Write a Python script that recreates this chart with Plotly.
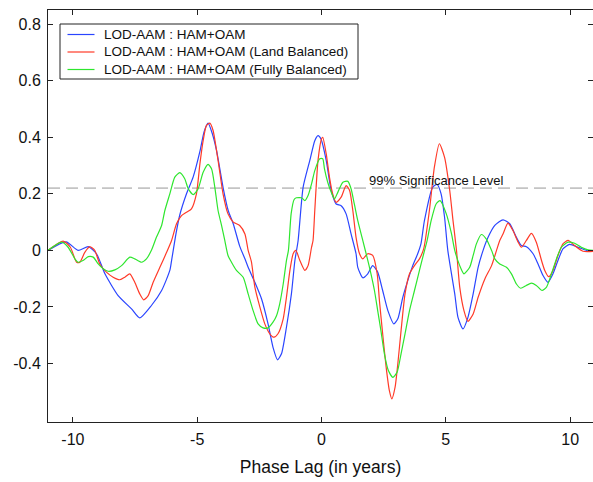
import plotly.graph_objects as go

# ---- data ----
blue_x = [-11.0, -10.27, -9.79, -9.38, -9.05, -8.71, -8.18, -7.64, -7.31, -6.84, -6.43, -6.10, -6.03,
          -5.85, -5.70, -5.43, -5.16, -4.89, -4.72, -4.56, -4.40, -4.22, -3.96, -3.75, -3.55, -3.29, -3.08,
          -2.95, -2.68, -2.41, -2.15, -1.95, -1.77, -1.61, -1.41, -1.21, -1.07, -0.94, -0.74, -0.47,
          -0.27, -0.14, -0.02, 0.19, 0.39, 0.59, 0.79, 0.99, 1.19, 1.39, 1.46, 1.66, 1.86, 2.06, 2.26,
          2.46, 2.67, 2.91, 3.07, 3.27, 3.47, 3.67, 3.87, 4.0, 4.14, 4.47, 4.65, 4.81, 4.95, 5.08, 5.36,
          5.49, 5.69, 5.89, 6.10, 6.30, 6.50, 6.70, 6.97, 7.30, 7.57, 7.84, 8.04, 8.24, 8.51, 8.71, 8.91,
          9.11, 9.31, 9.51, 9.71, 9.98, 10.32, 10.65, 11.0]
blue_y = [0.0, 0.03, 0.0, 0.013, -0.012, -0.083, -0.16, -0.207, -0.239, -0.195, -0.142, -0.071, -0.036,
          0.06, 0.125, 0.2, 0.26, 0.35, 0.42, 0.45, 0.415, 0.353, 0.223, 0.14, 0.094, 0.015, -0.03,
          -0.06, -0.113, -0.172, -0.26, -0.343, -0.387, -0.366, -0.272, -0.154, -0.036, 0.035, 0.223, 0.318,
          0.388, 0.406, 0.394, 0.318, 0.212, 0.164, 0.158, 0.129, 0.058, -0.012, -0.06, -0.097, -0.083, -0.054, -0.077,
          -0.142, -0.213, -0.26, -0.242, -0.166, -0.107, -0.054, -0.012, 0.023, 0.105, 0.223, 0.233, 0.2, 0.117, 0.0, -0.154,
          -0.237, -0.278, -0.237, -0.154, -0.06, 0.0, 0.046, 0.088, 0.108, 0.094, 0.046, 0.017, 0.013, -0.012, -0.048, -0.089,
          -0.113, -0.083, -0.036, 0.005, 0.021, 0.011, 0.0, -0.003]

red_x = [-11.0, -10.39, -10.1, -9.85, -9.72, -9.52, -9.32, -9.12, -8.92, -8.65, -8.38, -8.11, -7.91, -7.71,
         -7.51, -7.31, -7.15, -6.97, -6.77, -6.50, -6.23, -6.03, -5.83, -5.63, -5.43, -5.23, -5.03, -4.89,
         -4.76, -4.63, -4.49, -4.36, -4.16, -3.96, -3.76, -3.55, -3.29, -3.08, -2.95, -2.82, -2.68, -2.48,
         -2.28, -2.08, -1.91, -1.75, -1.54, -1.41, -1.27, -1.14, -1.03, -0.87, -0.67, -0.54, -0.40, -0.34,
         -0.27, -0.14, 0.0, 0.05, 0.19, 0.32, 0.45, 0.59, 0.79, 0.99, 1.13, 1.26, 1.39, 1.53, 1.66, 1.86,
         2.06, 2.24, 2.33, 2.46, 2.60, 2.73, 2.83, 2.96, 3.07, 3.20, 3.36, 3.54, 3.74, 3.94, 4.11, 4.34,
         4.54, 4.74, 4.95, 5.16, 5.29, 5.43, 5.56, 5.73, 5.89, 6.10, 6.30, 6.57, 6.84, 7.04, 7.17, 7.30,
         7.50, 7.70, 7.91, 8.04, 8.24, 8.44, 8.64, 8.85, 8.98, 9.14, 9.31, 9.51, 9.71, 9.92, 10.18, 10.52, 11.0]
red_y = [0.0, 0.033, 0.011, -0.042, -0.042, -0.007, 0.013, 0.0, -0.048, -0.077, -0.095, -0.104, -0.095, -0.083,
         -0.113, -0.154, -0.175, -0.16, -0.113, -0.06, -0.007, 0.035, 0.094, 0.123, 0.135, 0.147, 0.2, 0.306,
         0.388, 0.441, 0.45, 0.424, 0.318, 0.2, 0.129, 0.1, 0.088, 0.058, 0.0, -0.04, -0.13, -0.2,
         -0.26, -0.295, -0.307, -0.295, -0.242, -0.166, -0.071, -0.012, 0.0, -0.036, -0.071, -0.054, 0.011, 0.035,
         0.141, 0.318, 0.394, 0.4, 0.341, 0.259, 0.2, 0.17, 0.188, 0.229, 0.212, 0.141, 0.046, -0.012, -0.03, -0.012,
         -0.018, -0.083, -0.178, -0.295, -0.413, -0.496, -0.525, -0.484, -0.401, -0.284, -0.154, -0.083, -0.054, -0.03, 0.005, 0.141,
         0.294, 0.377, 0.329, 0.21, 0.105, 0.0, -0.13, -0.213, -0.251, -0.225, -0.166, -0.101, -0.054, 0.0, 0.035, 0.058,
         0.096, 0.07, 0.029, 0.011, 0.035, 0.06, 0.029, -0.036, -0.071, -0.093, -0.071, -0.018, 0.023, 0.035, 0.017, -0.003, -0.003]

green_x = [-11.0, -10.45, -10.19, -9.92, -9.79, -9.59, -9.38, -9.18, -8.98, -8.78, -8.58, -8.31, -8.04, -7.71,
           -7.51, -7.24, -7.04, -6.84, -6.64, -6.43, -6.30, -6.10, -5.90, -5.70, -5.50, -5.36, -5.16, -4.96,
           -4.76, -4.56, -4.42, -4.29, -4.16, -4.02, -3.89, -3.76, -3.62, -3.42, -3.15, -2.95, -2.75, -2.55,
           -2.35, -2.15, -1.95, -1.81, -1.68, -1.54, -1.41, -1.33, -1.22, -1.10, -1.01, -0.80, -0.67, -0.54,
           -0.40, -0.27, -0.07, 0.05, 0.12, 0.25, 0.39, 0.52, 0.66, 0.86, 1.06, 1.19, 1.32, 1.46, 1.66, 1.83,
           1.99, 2.13, 2.26, 2.39, 2.53, 2.69, 2.87, 3.04, 3.20, 3.36, 3.54, 3.74, 3.94, 4.11, 4.25, 4.41,
           4.61, 4.77, 5.02, 5.23, 5.36, 5.56, 5.73, 5.96, 6.10, 6.23, 6.43, 6.63, 6.84, 6.97, 7.17, 7.44,
           7.64, 7.84, 8.01, 8.24, 8.44, 8.64, 8.87, 9.05, 9.25, 9.45, 9.65, 9.92, 10.18, 10.45, 10.72, 11.0]
green_y = [0.0, 0.029, 0.011, -0.03, -0.042, -0.036, -0.022, -0.024, -0.048, -0.065, -0.074, -0.069, -0.054, -0.024,
           -0.03, -0.042, -0.03, 0.0, 0.046, 0.088, 0.141, 0.2, 0.259, 0.275, 0.253, 0.218, 0.197, 0.218,
           0.276, 0.304, 0.288, 0.223, 0.141, 0.088, 0.035, -0.018, -0.042, -0.071, -0.095, -0.154, -0.213, -0.26,
           -0.274, -0.274, -0.254, -0.231, -0.189, -0.119, -0.036, 0.0, 0.13, 0.18, 0.186, 0.186, 0.176, 0.194,
           0.235, 0.282, 0.324, 0.324, 0.288, 0.241, 0.206, 0.182, 0.206, 0.241, 0.244, 0.218, 0.164, 0.105, 0.035, -0.024,
           -0.083, -0.142, -0.213, -0.284, -0.366, -0.425, -0.449, -0.431, -0.366, -0.295, -0.213, -0.142, -0.071, -0.012, 0.035, 0.105,
           0.164, 0.176, 0.129, 0.058, 0.0, -0.054, -0.083, -0.06, -0.018, 0.023, 0.056, 0.04, 0.0, -0.03, -0.048, -0.06,
           -0.083, -0.119, -0.134, -0.124, -0.116, -0.124, -0.142, -0.13, -0.083, -0.03, 0.011, 0.029, 0.025, 0.011, 0.002, 0.0]

series_names = ["LOD-AAM : HAM+OAM",
                "LOD-AAM : HAM+OAM (Land Balanced)",
                "LOD-AAM : HAM+OAM (Fully Balanced)"]
series_colors = ["#2a45ff", "#ff3a28", "#2ee62e"]

sig_level = 0.22
sig_x = [-11, 11]
sig_label = "99% Significance Level"

x_ticks = [-10, -5, 0, 5, 10]
y_ticks = [-0.4, -0.2, 0, 0.2, 0.4, 0.6, 0.8]
y_ticktext = ["-0.4", "-0.2", "0", "0.2", "0.4", "0.6", "0.8"]
x_title = "Phase Lag (in years)"

FONT = "Liberation Sans, Arial, sans-serif"
W, H = 593, 482
ML, MR, MT, MB = 48, 0, 10, 60
PW, PH = W - ML - MR, H - MT - MB


def px(xp):
    return (xp - ML) / PW


def py(yp):
    return (H - MB - yp) / PH


fig = go.Figure()
fig.add_trace(go.Scatter(x=sig_x, y=[sig_level, sig_level], mode="lines",
                         line=dict(color="#c4c4c4", width=1.6, dash="12px,6px"),
                         showlegend=False, hoverinfo="skip"))
for xs, ys, name, col in [(blue_x, blue_y, series_names[0], series_colors[0]),
                          (red_x, red_y, series_names[1], series_colors[1]),
                          (green_x, green_y, series_names[2], series_colors[2])]:
    fig.add_trace(go.Scatter(x=xs, y=ys, mode="lines", name=name, showlegend=False,
                             line=dict(color=col, width=1.2, shape="spline", smoothing=0.6)))

fig.add_annotation(x=4.64, y=sig_level, yshift=8, text=sig_label, showarrow=False,
                   font=dict(family=FONT, size=13, color="#111"), xanchor="center", yanchor="middle")

# legend box drawn in the plot's paper space
fig.add_shape(type="rect", xref="paper", yref="paper", x0=px(60), x1=px(358), y0=py(79), y1=py(24),
              line=dict(color="#222", width=1), fillcolor="white", layer="above")
for i, (name, col) in enumerate(zip(series_names, series_colors)):
    yy = 34.5 + i * 17.5
    fig.add_shape(type="line", xref="paper", yref="paper", x0=px(67.5), x1=px(94.5), y0=py(yy), y1=py(yy),
                  line=dict(color=col, width=1.2), layer="above")
    fig.add_annotation(xref="paper", yref="paper", x=px(101.5), y=py(yy), text=name, showarrow=False,
                       xanchor="left", yanchor="middle",
                       font=dict(family=FONT, size=13.5, color="#111"))

axis_common = dict(showline=True, linecolor="#222", linewidth=1, mirror="ticks", ticks="inside",
                   ticklen=5, tickcolor="#222", showgrid=False, zeroline=False,
                   tickfont=dict(family=FONT, size=16, color="#111"))

fig.update_layout(
    width=W, height=H,
    margin=dict(l=ML, r=MR, t=MT, b=MB),
    paper_bgcolor="white", plot_bgcolor="white",
    xaxis=dict(range=[-11, 10.92], tickvals=x_ticks, ticktext=[str(v) for v in x_ticks],
               ticklabelstandoff=3,
               title=dict(text=x_title, font=dict(family=FONT, size=17.5, color="#111"), standoff=13),
               **axis_common),
    yaxis=dict(range=[-0.607, 0.85], tickvals=y_ticks, ticktext=y_ticktext, ticklabelstandoff=3,
               **axis_common),
    showlegend=False,
)

fig.write_html("out.html")
